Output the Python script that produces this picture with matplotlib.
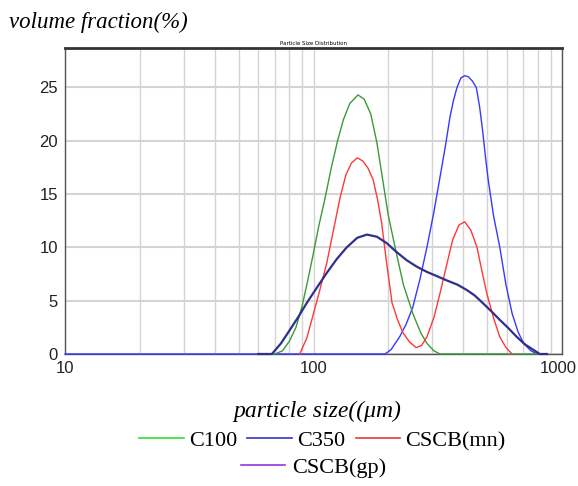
from matplotlib import pyplot as plt
from matplotlib.lines import Line2D
from matplotlib.transforms import ScaledTranslation
import numpy as np

# particle size (um) and volume fraction (%)
c100_size = [60, 70, 75, 80, 85, 90, 95, 100, 105, 111, 118, 125, 132, 140, 151, 160, 170, 180, 190, 200,
             213, 230, 251, 270, 286, 305, 323, 400, 600, 820]
c100_vol = [0, 0, 0.3, 1.2, 2.5, 4.5, 7, 9.5, 12, 14.5, 17.5, 20, 22, 23.5, 24.3, 23.9, 22.5, 19.8, 16.3, 13,
            10, 6.5, 3.8, 2, 1, 0.3, 0, 0, 0, 0]

c350_size = [10, 50, 100, 150, 194, 205, 222, 236, 251, 268, 286, 305, 323, 340, 354, 366, 378, 392, 406, 420,
             436, 452, 466, 479, 492, 505, 530, 562, 595, 630, 665, 700, 750, 795, 870]
c350_vol = [0, 0, 0, 0, 0, 0.4, 1.6, 2.8, 4.4, 7, 10, 13.3, 16.6, 19.6, 22.2, 23.8, 25, 25.9, 26.1, 26,
            25.6, 25, 23.2, 21, 18.5, 16.3, 13, 10, 6.5, 3.8, 2.1, 1, 0.3, 0, 0]

mn_size = [88, 94, 100, 106, 113, 120, 128, 135, 142, 150, 158, 166, 174, 181, 188, 197, 207, 218, 229, 244,
           259, 272, 286, 305, 323, 343, 363, 385, 406, 430, 455, 476, 498, 530, 562, 595, 630]
mn_vol = [0, 1.5, 3.8, 6, 8.5, 11.5, 14.7, 16.8, 17.9, 18.4, 18.1, 17.4, 16.3, 14.5, 12.3, 8.5, 4.8, 3.2, 2, 1.1,
          0.6, 0.8, 1.6, 3.4, 5.7, 8.3, 10.7, 12.1, 12.4, 11.6, 10, 7.8, 5.7, 3.4, 1.6, 0.6, 0]

gp_size = [60, 68, 74, 80, 87, 94, 103, 113, 124, 136, 150, 164, 180, 197, 215, 237, 260, 286, 314, 344,
           380, 414, 445, 479, 520, 562, 610, 658, 710, 766, 814, 870]
gp_vol = [0, 0, 1, 2.2, 3.5, 4.8, 6.2, 7.6, 8.9, 10, 10.9, 11.2, 11, 10.4, 9.6, 8.8, 8.2, 7.7, 7.3, 6.9,
          6.5, 6, 5.5, 4.8, 4, 3.2, 2.4, 1.6, 0.9, 0.4, 0, 0]

y_ticks = [0, 5, 10, 15, 20, 25]
x_ticks = [10, 100, 1000]

serif = ['Liberation Serif', 'DejaVu Serif']
sans = ['Liberation Sans', 'DejaVu Sans']

fig = plt.figure(figsize=(5.78, 4.86), dpi=100)
ax = fig.add_axes([0.1125, 0.2716, 0.8598, 0.6296])

ax.plot(c350_size, c350_vol, color='#3838ff', lw=1.0, zorder=3, clip_on=False)
ax.plot(c100_size, c100_vol, color='#3a9a3a', lw=1.0, zorder=3, clip_on=False)
ax.plot(mn_size, mn_vol, color='#ff3838', lw=1.0, zorder=3, clip_on=False)
ax.plot(gp_size, gp_vol, color='#30308c', lw=1.6, zorder=4, clip_on=False)

ax.set_xscale('log')
ax.set_xlim(10, 1000)
ax.set_ylim(0, 28.7)
ax.set_yticks(y_ticks)
ax.set_xticks(x_ticks)
ax.set_xticklabels([str(v) for v in x_ticks])
ax.xaxis.set_minor_formatter(plt.NullFormatter())
ax.grid(True, which='both', axis='x', color='#d4d4d4', lw=1.0)
ax.grid(True, which='major', axis='y', color='#d4d4d4', lw=1.5)
ax.set_axisbelow(True)
ax.tick_params(which='both', length=0)
ax.tick_params(axis='y', pad=5)
ax.tick_params(axis='x', pad=5)
for lab in ax.get_xticklabels() + ax.get_yticklabels():
    lab.set_family(sans)
    lab.set_fontsize(12)
    lab.set_color('#222222')

# keep "1000" inside the figure edge
last = ax.get_xticklabels()[-1]
last.set_ha('right')
last.set_transform(last.get_transform() + ScaledTranslation(0.145, 0, fig.dpi_scale_trans))

for side in ['left', 'right', 'bottom']:
    ax.spines[side].set_color('#555555')
    ax.spines[side].set_linewidth(1.0)
ax.spines['top'].set_color('#333333')
ax.spines['top'].set_linewidth(2.0)

ax.set_title('Particle Size Distribution', fontsize=4, pad=2)

fig.text(0.015, 0.942, 'volume fraction(%)', family=serif, style='italic', fontsize=16.5)
fig.text(0.549, 0.142, 'particle size((\u03bcm)', family=serif, style='italic', fontsize=17, ha='center')

# legend (two rows)
h1 = [Line2D([], [], color='#33dd33', lw=1.2),
      Line2D([], [], color='#3333cc', lw=1.2),
      Line2D([], [], color='#e83838', lw=1.2)]
fig.legend(h1, ['C100', 'C350', 'CSCB(mn)'], ncol=3, loc='center',
           bbox_to_anchor=(0.558, 0.093), frameon=False,
           prop={'family': serif, 'size': 16}, handlelength=2.0,
           handletextpad=0.25, columnspacing=0.45)
h2 = [Line2D([], [], color='#9933dd', lw=1.2)]
fig.legend(h2, ['CSCB(gp)'], loc='center', bbox_to_anchor=(0.542, 0.038),
           frameon=False, prop={'family': serif, 'size': 16},
           handlelength=2.0, handletextpad=0.3)

plt.savefig('out.png', dpi=100)
